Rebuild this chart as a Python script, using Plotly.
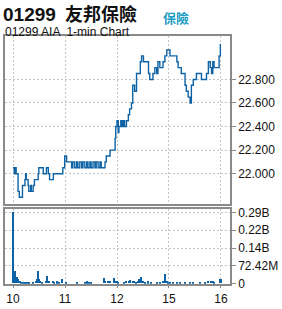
import plotly.graph_objects as go

# price series: minute index since open, price
price_min = [0,2,4,5,8,10,13,15,17,19,20,21,24,25,28,29,32,34,37,40,41,45,48,50,53,56,58,61,64,69,74,77,79,82,85,90,93,95,98,101,103,106,109,111,114,117,119,122,124,127,130,132,135,138,140,143,146,148,151,154,159,162,163,165,167,168,171,173,175,177,180,183,185,188,190,193,196,199,200,202,204,207,212,215,217,220,222,225,228,230,233,236,238,241,244,246,249,254,257,260,262,265,267,270,273,275,278,281,283,286,291,294,297,299,305,307,310,313,315,317,319,322,326,327,329]
price_val = [22.05,22.00,22.05,22.00,21.85,21.80,21.80,21.90,21.90,21.95,22.00,21.95,21.90,21.85,21.90,21.85,21.90,21.95,21.95,22.00,22.05,22.05,22.00,22.00,22.05,22.00,21.95,21.95,22.00,22.00,22.00,22.00,22.05,22.15,22.10,22.10,22.05,22.10,22.05,22.10,22.05,22.10,22.05,22.10,22.05,22.10,22.05,22.10,22.05,22.10,22.05,22.10,22.05,22.10,22.05,22.05,22.10,22.15,22.15,22.20,22.20,22.30,22.40,22.45,22.35,22.40,22.45,22.40,22.45,22.40,22.45,22.50,22.55,22.60,22.75,22.70,22.85,22.85,22.85,22.95,23.00,22.95,22.95,22.85,22.80,22.80,22.85,22.90,22.85,22.95,22.90,22.90,22.95,23.00,23.05,23.05,23.00,23.00,23.00,22.95,22.90,22.90,22.85,22.85,22.75,22.70,22.65,22.60,22.75,22.80,22.85,22.85,22.85,22.80,22.80,22.85,22.95,22.90,22.85,22.95,22.90,22.90,22.90,23.00,23.10]

# volume series (millions)
vol_min = [0,1,2,3,4,5,7,9,11,13,16,19,21,24,26,32,37,39,40,41,43,47,52,55,58,63,66,70,74,78,85,102,114,117,121,124,145,147,151,154,160,163,165,167,177,180,184,186,190,193,196,199,201,204,207,209,215,220,228,233,238,242,244,246,250,254,260,265,273,281,286,297,305,310,314,318,320,328,330]
vol_val = [289.68,33,33,30,51,20,27,16,11,7,7,5,4,4,4,3,11,16,50,16,9,5,9,31,9,11,5,8,4,16,3,3,5,8,5,7,20,11,9,11,20,11,9,5,5,9,11,13,11,11,7,11,16,27,11,5,8,5,7,3,11,37,11,3,3,5,5,4,5,5,7,5,5,11,9,11,5,19,16]

tick_pos = [0, 82.5, 165, 247.5, 330]
tick_lab = ["10", "11", "12", "15", "16"]
price_ticks = [22.0, 22.2, 22.4, 22.6, 22.8]
vol_ticks = [0, 72.42, 144.84, 217.26, 289.68]
vol_tick_lab = ["0", "72.42M", "0.14B", "0.22B", "0.29B"]

BLUE = "#0d63a5"
FRAME = "#8a8a8a"
GRID = "#c4c4c4"
FONT = "Liberation Sans, Arial, sans-serif"

fig = go.Figure()
fig.add_trace(go.Scatter(x=price_min, y=price_val, mode="lines", line=dict(color=BLUE, width=1.4, shape="hv"),
                         xaxis="x", yaxis="y", hoverinfo="skip"))
fig.add_trace(go.Bar(x=vol_min, y=vol_val, marker=dict(color=BLUE, line=dict(width=0)), width=2.2,
                     xaxis="x2", yaxis="y2", hoverinfo="skip"))

xr = [-12.7, 344.3]
xd = [5/282, 230/282]
common_x = dict(range=xr, domain=xd, tickvals=tick_pos, showgrid=True, gridcolor=GRID, griddash="2px,2px",
                gridwidth=1, showline=True, linecolor=FRAME, linewidth=1.5, mirror=True, zeroline=False,
                fixedrange=True)
fig.update_layout(
    width=282, height=309, margin=dict(l=0, r=0, t=0, b=0),
    paper_bgcolor="white", plot_bgcolor="white", showlegend=False, bargap=0,
    font=dict(family=FONT, size=12, color="#111"),
    xaxis=dict(**common_x, anchor="y", showticklabels=False, ticks=""),
    xaxis2=dict(**common_x, anchor="y2", ticktext=tick_lab, ticks="outside", ticklen=3, tickcolor=FRAME,
                tickfont=dict(size=12, color="#111")),
    yaxis=dict(domain=[1-207/309, 1-33/309], range=[21.746, 23.17], side="right", tickvals=price_ticks,
               tickformat=".3f", ticks="outside", ticklen=4, tickcolor=FRAME, showgrid=True, gridcolor=GRID,
               griddash="2px,2px", showline=True, linecolor=FRAME, linewidth=1.5, mirror=True, zeroline=False,
               anchor="x", tickfont=dict(size=12, color="#111"), fixedrange=True),
    yaxis2=dict(domain=[1-290/309, 1-213/309], range=[0, 301.5], side="right", tickvals=vol_ticks,
                ticktext=vol_tick_lab, ticks="outside", ticklen=4, tickcolor=FRAME, showgrid=True, gridcolor=GRID,
                griddash="2px,2px", showline=True, linecolor=FRAME, linewidth=1.5, mirror=True, zeroline=False,
                anchor="x2", tickfont=dict(size=12, color="#111"), fixedrange=True),
)

fig.add_annotation(x=2/282, y=1-11/309, xref="paper", yref="paper", xanchor="left", yanchor="middle",
                   text="<b>01299</b>", showarrow=False, borderpad=0,
                   font=dict(family=FONT, size=19, color="#111"))
fig.add_annotation(x=64/282, y=1-9.5/309, xref="paper", yref="paper", xanchor="left", yanchor="middle",
                   text="<b>友邦保險</b>", showarrow=False, borderpad=0,
                   font=dict(family="Noto Sans CJK TC, sans-serif", size=18, color="#111"))
fig.add_annotation(x=162/282, y=1-14/309, xref="paper", yref="paper", xanchor="left", yanchor="middle",
                   text="<b>保險</b>", showarrow=False, borderpad=0,
                   font=dict(family="Noto Sans CJK TC, sans-serif", size=13, color="#1a9cc4"))
fig.add_annotation(x=4/282, y=1-29.3/309, xref="paper", yref="paper", xanchor="left", yanchor="middle",
                   text="01299 AIA  1-min Chart", showarrow=False, borderpad=0,
                   font=dict(family=FONT, size=12, color="#111"))

fig.write_html("out.html")
